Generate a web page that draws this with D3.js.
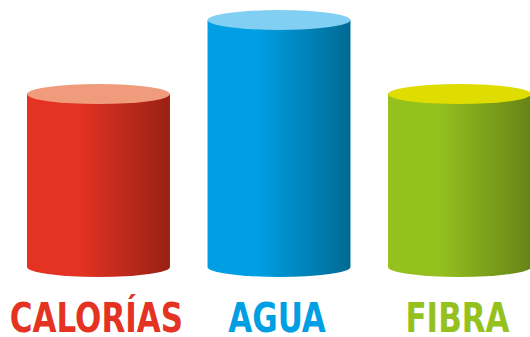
<!DOCTYPE html>
<html>
<head>
<meta charset="utf-8">
<script src="https://cdn.jsdelivr.net/npm/d3@7"></script>
<style>
  html, body { margin: 0; padding: 0; background: #fff; }
  svg { display: block; }
</style>
</head>
<body>
<svg id="chart"></svg>
<script>
// data
var categories = ['CALORÍAS', 'AGUA', 'FIBRA'];
var values = [70, 100, 70];
var sideColors = ['#e53323', '#009fe3', '#95c11f'];
var darkColors = ['#992114', '#006a94', '#658418'];
var topColors = ['#f19b7d', '#82cff4', '#dfdc00'];

var width = 530, height = 337;
var baseY = 267, ry = 10;

var svg = d3.select('#chart')
  .attr('width', width)
  .attr('height', height);

var x = d3.scaleBand()
  .domain(categories)
  .range([27, 531])
  .paddingInner(0.208)
  .paddingOuter(0);

var y = d3.scaleLinear()
  .domain([0, 100])
  .range([baseY, 20]);

// side gradients
var defs = svg.append('defs');
categories.forEach(function (c, i) {
  var g = defs.append('linearGradient')
    .attr('id', 'grad' + i)
    .attr('x1', '0%').attr('x2', '100%')
    .attr('y1', '0%').attr('y2', '0%');
  g.append('stop').attr('offset', '0%').attr('stop-color', sideColors[i]);
  g.append('stop').attr('offset', '35%').attr('stop-color', sideColors[i]);
  g.append('stop').attr('offset', '100%').attr('stop-color', darkColors[i]);
});

var bar = svg.selectAll('g.cyl')
  .data(categories)
  .enter()
  .append('g')
  .attr('class', 'cyl');

// body: rectangle plus bottom half ellipse
bar.append('path')
  .attr('fill', function (d, i) { return 'url(#grad' + i + ')'; })
  .attr('d', function (d, i) {
    var x0 = x(d), w = x.bandwidth(), rx = w / 2, top = y(values[i]);
    return 'M' + x0 + ',' + top +
      'L' + x0 + ',' + baseY +
      'A' + rx + ',' + ry + ' 0 0 0 ' + (x0 + w) + ',' + baseY +
      'L' + (x0 + w) + ',' + top + 'Z';
  });

// top ellipse
bar.append('ellipse')
  .attr('cx', function (d) { return x(d) + x.bandwidth() / 2; })
  .attr('cy', function (d, i) { return y(values[i]); })
  .attr('rx', x.bandwidth() / 2)
  .attr('ry', ry)
  .attr('fill', function (d, i) { return topColors[i]; });

// labels (condensed look via horizontal squeeze)
bar.append('text')
  .attr('transform', function (d) {
    var cx = x(d) + x.bandwidth() / 2 - 2;
    return 'translate(' + cx + ',332) scale(0.84,1)';
  })
  .attr('text-anchor', 'middle')
  .attr('font-family', '"DejaVu Sans Condensed", "DejaVu Sans", sans-serif')
  .attr('font-weight', 'bold')
  .attr('font-size', 41)
  .attr('fill', function (d, i) { return sideColors[i]; })
  .text(function (d) { return d; });
</script>
</body>
</html>
